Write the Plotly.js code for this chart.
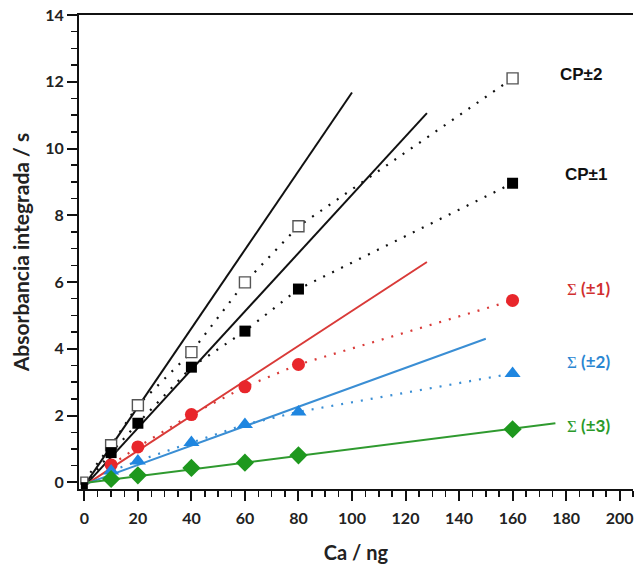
<!DOCTYPE html>
<html>
<head>
<meta charset="utf-8">
<script src="https://cdn.plot.ly/plotly-3.0.1.min.js"></script>
<style>html,body{margin:0;padding:0;background:#fff;}#chart{width:635px;height:570px;}</style>
</head>
<body>
<div id="chart"></div>
<script>
// Ca amount (ng)
const caNg = [0, 10, 20, 40, 60, 80, 160];
// Integrated absorbance (s) for each configuration
const cp2 = [0.05, 1.11, 2.31, 3.90, 5.99, 7.67, 12.10];
const cp1 = [-0.10, 0.89, 1.77, 3.45, 4.53, 5.79, 8.96];
const sum1 = [null, 0.52, 1.06, 2.03, 2.86, 3.53, 5.45];
const sum2 = [null, 0.34, 0.64, 1.19, 1.73, 2.11, 3.26];
const sum3 = [null, 0.10, 0.21, 0.43, 0.59, 0.81, 1.59];

// Linear-range fit lines (start / end points)
const fitCp2X = [0, 100],  fitCp2Y = [-0.10, 11.68];
const fitCp1X = [0, 128],  fitCp1Y = [-0.12, 11.06];
const fitS1X  = [0, 128],  fitS1Y  = [-0.10, 6.60];
const fitS2X  = [0, 150],  fitS2Y  = [-0.06, 4.30];
const fitS3X  = [0, 176],  fitS3Y  = [-0.02, 1.77];

// Series labels
const labels = ["CP±2", "CP±1", "(±1)", "(±2)", "(±3)"];
const labelX = [185.5, 187.5, 188.5, 188.5, 188.5];
const labelY = [12.23, 9.21, 5.82, 3.63, 1.71];

const BLACK = "#111111", RED = "#e8262b", BLUE = "#1f86e0", GREEN = "#1e981e";
const RED_L = "#d93a38", BLUE_L = "#3a8ed4", GREEN_L = "#2f9a2f";
const sizes = [7, 11, 11, 11, 11, 11, 11];

function fit(x, y, c) {
  return {x: x, y: y, mode: "lines", line: {color: c, width: 2}, hoverinfo: "skip"};
}
function dotted(y, c) {
  return {x: caNg, y: y, mode: "lines", line: {color: c, width: 2.2, dash: "2px,8px"}, connectgaps: true, hoverinfo: "skip"};
}
function pts(y, sym, c, sz, lc, lw) {
  return {x: caNg, y: y, mode: "markers",
    marker: {symbol: sym, color: c, size: sz, opacity: 1, line: {color: lc || c, width: lw || 0}}};
}

const traces = [
  dotted(cp2, BLACK), dotted(cp1, BLACK), dotted(sum1, RED_L), dotted(sum2, BLUE_L),
  fit(fitCp2X, fitCp2Y, BLACK), fit(fitCp1X, fitCp1Y, BLACK),
  fit(fitS1X, fitS1Y, RED_L), fit(fitS2X, fitS2Y, BLUE_L), fit(fitS3X, fitS3Y, GREEN_L),
  pts(cp2, "square", "#ffffff", sizes, "#555555", 1.4),
  pts(cp1, "square", "#000000", sizes),
  pts(sum1, "circle", RED, 13),
  pts(sum2, "triangle-up", BLUE, 14),
  pts(sum3, "diamond", GREEN, 14)
];

const sig = '<span style="font-family:\'Liberation Serif\',serif;font-weight:normal">Σ</span> ';
const labelColors = [BLACK, BLACK, "#d12f2f", "#2a86d2", "#2a9a2a"];
const annotations = labels.map((t, i) => ({
  x: labelX[i], y: labelY[i], xref: "x", yref: "y", showarrow: false,
  text: (i >= 2 ? sig : "") + t,
  font: {family: i >= 2 ? "Lato, sans-serif" : "Liberation Sans, Arial, sans-serif", size: 17, color: labelColors[i], weight: "bold"}
}));

const axisFont = {family: "Lato, sans-serif", size: 16, color: "#222", weight: "bold"};

const layout = {
  width: 635, height: 570,
  margin: {l: 79, r: 2, t: 15, b: 81},
  paper_bgcolor: "#fff", plot_bgcolor: "#fff",
  showlegend: false,
  font: {family: "Lato, sans-serif"},
  xaxis: {
    range: [-2, 205], showgrid: false, zeroline: false,
    showline: true, linecolor: "#111", linewidth: 2, mirror: true,
    ticks: "outside", ticklen: 10, tickwidth: 2, tickcolor: "#111",
    tick0: 0, dtick: 20, tickfont: axisFont, ticklabelstandoff: 4,
    minor: {ticks: "outside", ticklen: 6, tickwidth: 1.5, tickcolor: "#111", dtick: 5, tick0: 0, showgrid: false},
    title: {text: "Ca / ng", font: {family: "Lato, sans-serif", size: 20, color: "#222", weight: "bold"}, standoff: 20}
  },
  yaxis: {
    range: [-0.2, 14], showgrid: false, zeroline: false,
    showline: true, linecolor: "#111", linewidth: 2,
    ticks: "outside", ticklen: 10, tickwidth: 2, tickcolor: "#111",
    tick0: 0, dtick: 2, tickfont: axisFont,
    minor: {ticks: "outside", ticklen: 6, tickwidth: 1.5, tickcolor: "#111", dtick: 0.5, tick0: 0, showgrid: false},
    title: {text: "Absorbancia integrada / s", font: {family: "Lato, sans-serif", size: 21, color: "#222", weight: "bold"}, standoff: 10}
  },
  annotations: annotations
};

Plotly.newPlot("chart", traces, layout, {staticPlot: true, displayModeBar: false});
</script>
</body>
</html>
